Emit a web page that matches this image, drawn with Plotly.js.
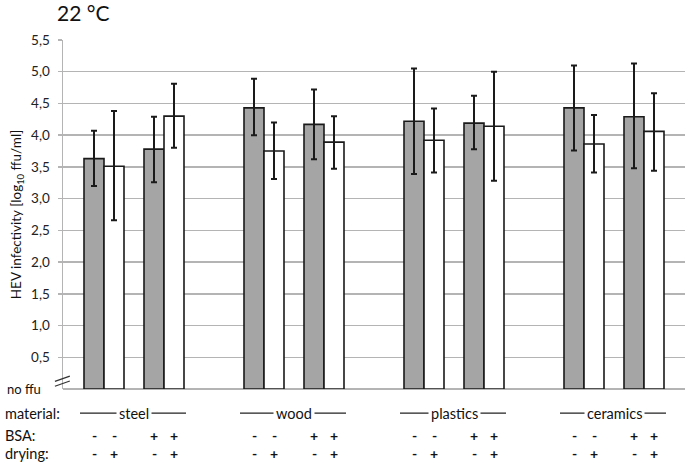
<!DOCTYPE html>
<html>
<head>
<meta charset="utf-8">
<script src="https://cdn.plot.ly/plotly-3.0.1.min.js"></script>
<style>
  html, body { margin: 0; padding: 0; background: #fff; }
  #chart { width: 685px; height: 464px; }
</style>
</head>
<body>
<div id="chart"></div>
<script>
// HEV infectivity at 22 °C, log10 ffu/ml
const materials = ['steel', 'wood', 'plastics', 'ceramics'];
const bsaLabels = ['-', '+'];          // per pair within a material
const dryingLabels = ['-', '+'];       // gray bar = no drying, white bar = drying

// gray bars (no drying), ordered steel-BSA, steel+BSA, wood-BSA, ...
const grayMean = [3.63, 3.78, 4.43, 4.17, 4.22, 4.19, 4.43, 4.29];
const grayHigh = [4.07, 4.29, 4.89, 4.72, 5.05, 4.62, 5.10, 5.13];
const grayLow  = [3.20, 3.26, 4.00, 3.62, 3.39, 3.78, 3.76, 3.48];

// white bars (drying)
const whiteMean = [3.51, 4.30, 3.75, 3.89, 3.92, 4.14, 3.86, 4.06];
const whiteHigh = [4.38, 4.81, 4.20, 4.30, 4.42, 5.00, 4.32, 4.66];
const whiteLow  = [2.66, 3.80, 3.31, 3.47, 3.41, 3.28, 3.41, 3.44];

const yTicks = [0.5, 1, 1.5, 2, 2.5, 3, 3.5, 4, 4.5, 5, 5.5];

const font = 'Lato, "Open Sans", sans-serif';

// pair centre: material m, pair p
const pairX = [];
materials.forEach((_, m) => bsaLabels.forEach((_, p) => pairX.push(m * 8 + p * 3)));
const grayX = pairX.map(x => x - 0.5);
const whiteX = pairX.map(x => x + 0.5);

function barTrace(x, mean, high, low, color) {
    return {
        type: 'bar',
        x: x,
        y: mean,
        width: 1,
        marker: { color: color, line: { color: '#1a1a1a', width: 1.6 } },
        error_y: {
            type: 'data',
            symmetric: false,
            array: high.map((h, i) => h - mean[i]),
            arrayminus: low.map((l, i) => mean[i] - l),
            color: '#1a1a1a',
            thickness: 2,
            width: 3
        },
        hoverinfo: 'y',
        showlegend: false
    };
}

const data = [
    barTrace(grayX, grayMean, grayHigh, grayLow, '#a5a5a5'),
    barTrace(whiteX, whiteMean, whiteHigh, whiteLow, '#ffffff')
];

function label(text, x, y, size, xref) {
    return { text: text, xref: xref || 'paper', yref: 'paper', x: x, y: y,
             xanchor: xref ? 'center' : 'left', yanchor: 'middle', showarrow: false,
             font: { family: font, size: size, color: '#111' } };
}

const rowY = { material: -0.069, bsa: -0.132, drying: -0.186 };
const annotations = [
    label('22 °C', -0.013, 1.08, 21),
    label('no ffu', -0.093, 0, 13),
    label('material:', -0.097, rowY.material, 14.5),
    label('BSA:', -0.097, rowY.bsa, 14.5),
    label('drying:', -0.097, rowY.drying, 14.5)
];
const shapes = [];

materials.forEach((name, m) => {
    const cx = m * 8 + 1.5;
    shapes.push({ type: 'line', xref: 'x', yref: 'paper', x0: cx - 2.7, x1: cx + 2.6,
                  y0: rowY.material, y1: rowY.material, line: { color: '#222', width: 1.2 } });
    const a = label(name, cx, rowY.material, 14.5, 'x');
    a.bgcolor = '#fff';
    a.borderpad = 2;
    annotations.push(a);
});

pairX.forEach((px, i) => {
    const b = bsaLabels[i % 2];
    [grayX[i], whiteX[i]].forEach((x, j) => {
        annotations.push(label('<b>' + b + '</b>', x, rowY.bsa, 14, 'x'));
        annotations.push(label('<b>' + dryingLabels[j] + '</b>', x, rowY.drying, 14, 'x'));
    });
});

// axis break marks
shapes.push({ type: 'line', xref: 'paper', yref: 'paper', x0: -0.013, x1: 0.011, y0: 0.022, y1: 0.037,
              line: { color: '#333', width: 1.2 } });
shapes.push({ type: 'line', xref: 'paper', yref: 'paper', x0: -0.013, x1: 0.011, y0: 0.008, y1: 0.023,
              line: { color: '#333', width: 1.2 } });

const layout = {
    width: 685,
    height: 464,
    margin: { l: 63, r: 0, t: 40, b: 75 },
    paper_bgcolor: '#fff',
    plot_bgcolor: '#fff',
    font: { family: font, size: 13, color: '#111' },
    barmode: 'overlay',
    xaxis: {
        range: [-2.05, 29.05],
        showticklabels: false,
        showgrid: false,
        zeroline: false,
        ticks: '',
        fixedrange: true
    },
    yaxis: {
        range: [0, 5.5],
        tickvals: yTicks,
        ticktext: yTicks.map(v => v.toFixed(1).replace('.', ',')),
        ticks: 'outside',
        ticklen: 4,
        tickcolor: '#b4b4b4',
        tickwidth: 1.5,
        ticklabelstandoff: 5,
        tickfont: { family: font, size: 13.5, color: '#222' },
        showgrid: true,
        gridcolor: '#b4b4b4',
        gridwidth: 1.5,
        showline: true,
        linecolor: '#b4b4b4',
        linewidth: 1.5,
        zeroline: true,
        zerolinecolor: '#b4b4b4',
        zerolinewidth: 2,
        title: { text: 'HEV infectivity [log<sub>10</sub> ffu/ml]', standoff: 6,
                 font: { family: font, size: 13.5, color: '#111' } },
        fixedrange: true
    },
    annotations: annotations,
    shapes: shapes
};

Plotly.newPlot('chart', data, layout, { displayModeBar: false, staticPlot: true });
</script>
</body>
</html>
